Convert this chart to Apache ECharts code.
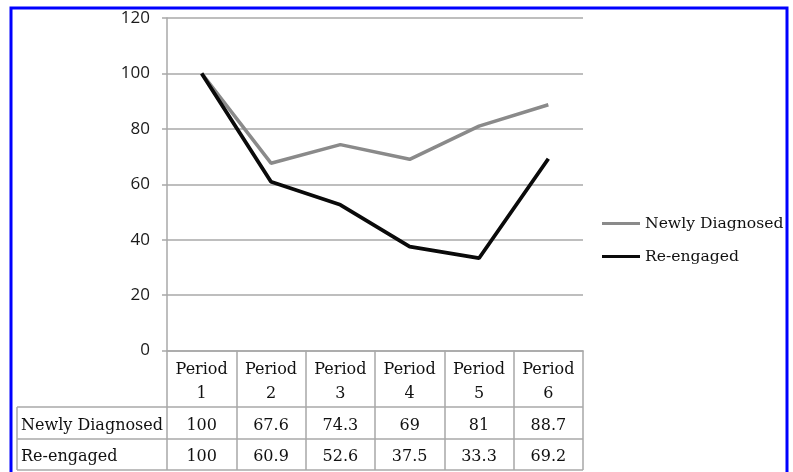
<!DOCTYPE html>
<html>
<head>
<meta charset="utf-8">
<script src="https://cdn.jsdelivr.net/npm/echarts@6/dist/echarts.min.js"></script>
<style>
html,body{margin:0;padding:0;background:#fff;}
#chart{width:793px;height:472px;}
</style>
</head>
<body>
<div id="chart"></div>
<script>
var categories = ['Period 1', 'Period 2', 'Period 3', 'Period 4', 'Period 5', 'Period 6'];
var seriesNames = ['Newly Diagnosed', 'Re-engaged'];
var newlyDiagnosed = [100, 67.6, 74.3, 69, 81, 88.7];
var reEngaged = [100, 60.9, 52.6, 37.5, 33.3, 69.2];
var yTicks = [0, 20, 40, 60, 80, 100, 120];

var GL = 167, GT = 18, GR = 583, GB = 350.5;
var tableLeft = 17, row1Top = 407, row2Top = 439, tableBottom = 470;
var gridColor = '#a8a8a8';
var serif = 'DejaVu Serif';
var textColor = '#111';

var chart = echarts.init(document.getElementById('chart'));

function valueAxis(values, offset) {
  return {
    type: 'category', data: categories, position: 'bottom', offset: offset,
    axisLine: {show: false}, axisTick: {show: false}, splitLine: {show: false},
    axisLabel: {
      interval: 0, margin: 0, verticalAlign: 'middle',
      fontFamily: serif, fontSize: 16, color: textColor,
      formatter: function (v, i) { return String(values[i]); }
    }
  };
}

var option = {
  backgroundColor: '#fff',
  animation: false,
  grid: {left: GL, top: GT, width: GR - GL, height: GB - GT, containLabel: false},
  legend: {
    orient: 'vertical', left: 597, top: 208, padding: 5,
    icon: 'rect', itemWidth: 38, itemHeight: 3, itemGap: 12,
    textStyle: {fontFamily: serif, fontSize: 15.6, color: textColor, lineHeight: 21},
    data: seriesNames
  },
  xAxis: [
    {
      type: 'category', data: categories, boundaryGap: true,
      axisLine: {show: true, lineStyle: {color: gridColor, width: 1.5}},
      axisTick: {show: true, interval: 0, length: tableBottom - GB, lineStyle: {color: gridColor, width: 1.5}},
      axisLabel: {
        interval: 0, margin: 7, lineHeight: 24,
        fontFamily: serif, fontSize: 16, color: textColor,
        formatter: function (v) { return v.replace(' ', '\n'); }
      }
    },
    valueAxis(newlyDiagnosed, 426 - GB),
    valueAxis(reEngaged, 457 - GB)
  ],
  yAxis: {
    type: 'value', min: yTicks[0], max: yTicks[yTicks.length - 1], interval: 20,
    axisLine: {show: true, lineStyle: {color: gridColor, width: 1.5}},
    axisTick: {show: true, length: 5, lineStyle: {color: gridColor, width: 1.5}},
    splitLine: {show: true, lineStyle: {color: gridColor, width: 1.5}},
    axisLabel: {margin: 17, fontFamily: 'Open Sans', fontSize: 17, color: '#1a1a1a'}
  },
  series: [
    {
      name: seriesNames[0], type: 'line', data: newlyDiagnosed, xAxisIndex: 0,
      symbol: 'none', lineStyle: {color: '#8a8a8a', width: 3.5}, itemStyle: {color: '#8a8a8a'}, z: 2
    },
    {
      name: seriesNames[1], type: 'line', data: reEngaged, xAxisIndex: 0,
      symbol: 'none', lineStyle: {color: '#0a0a0a', width: 3.8}, itemStyle: {color: '#0a0a0a'}, z: 3
    }
  ],
  graphic: [
    {type: 'line', shape: {x1: tableLeft, y1: row1Top, x2: GR, y2: row1Top}, style: {stroke: gridColor, lineWidth: 1.5}},
    {type: 'line', shape: {x1: tableLeft, y1: row2Top, x2: GR, y2: row2Top}, style: {stroke: gridColor, lineWidth: 1.5}},
    {type: 'line', shape: {x1: tableLeft, y1: tableBottom, x2: GR, y2: tableBottom}, style: {stroke: gridColor, lineWidth: 1.5}},
    {type: 'line', shape: {x1: tableLeft, y1: row1Top, x2: tableLeft, y2: tableBottom}, style: {stroke: gridColor, lineWidth: 1.5}},
    {type: 'text', x: 21, y: 426,
      style: {text: seriesNames[0], font: '16px "DejaVu Serif"', fill: textColor, verticalAlign: 'middle'}},
    {type: 'text', x: 21, y: 457,
      style: {text: seriesNames[1], font: '16px "DejaVu Serif"', fill: textColor, verticalAlign: 'middle'}},
    {type: 'rect', shape: {x: 11, y: 8, width: 776, height: 470}, style: {fill: 'none', stroke: '#0000ff', lineWidth: 3}, z: 100}
  ]
};
chart.setOption(option);
</script>
</body>
</html>
